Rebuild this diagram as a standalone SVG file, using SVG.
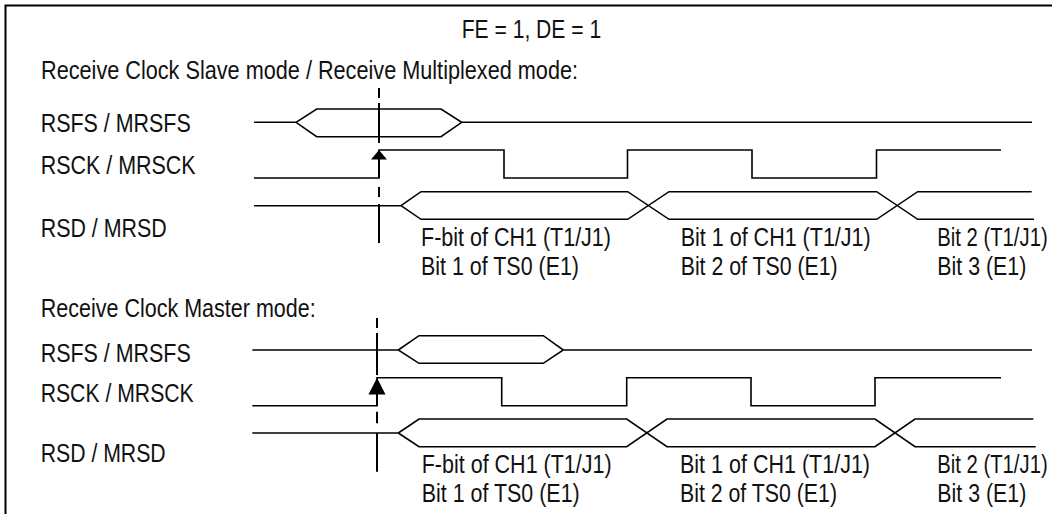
<svg xmlns="http://www.w3.org/2000/svg" width="1052" height="514" viewBox="0 0 1052 514">
<style>
text{font-family:"Liberation Sans Narrow","Liberation Sans",Arial,sans-serif;font-size:26px;fill:#111}
.sig{fill:none;stroke:#000;stroke-width:1.6}
.mk{fill:none;stroke:#000;stroke-width:2}
.ah{fill:#000}
.frame{fill:none;stroke:#000;stroke-width:2}
</style>
<rect width="1052" height="514" fill="#fff"/>
<path class="frame" d="M5.5,514 V5.5 H1052"/>
<g id="title">
<text x="461.7" y="38.3" textLength="139.5" lengthAdjust="spacingAndGlyphs">FE = 1, DE = 1</text>
</g>
<g id="slave-section">
<text x="41" y="78.7" textLength="537" lengthAdjust="spacingAndGlyphs">Receive Clock Slave mode / Receive Multiplexed mode:</text>
<g id="slave-rsfs">
<text x="40.7" y="132" textLength="150" lengthAdjust="spacingAndGlyphs">RSFS / MRSFS</text>
<path class="sig" d="M254,122.3 H296 M296,122.3 L316.7,109 H441 L461.7,122.3 L441,136.7 H316.7 Z M461.7,122.3 H1032"/>
</g>
<g id="slave-rsck">
<text x="40.7" y="174" textLength="155" lengthAdjust="spacingAndGlyphs">RSCK / MRSCK</text>
<path class="sig" d="M254,178 H379 V150 H504 V178 H627.5 V150 H752 V178 H876.5 V150 H1001"/>
</g>
<g id="slave-rsd">
<text x="40.7" y="236.5" textLength="126" lengthAdjust="spacingAndGlyphs">RSD / MRSD</text>
<path class="sig" d="M254,205.7 H401 M401,205.7 L421,191.7 H627.7 L669,219.3 H876.7 L917.7,191.7 H1031.7 M401,205.7 L421,219.3 H627.7 L669,191.7 H876.7 L917.7,219.3 H1034"/>
<text x="421" y="245.5" textLength="190" lengthAdjust="spacingAndGlyphs">F-bit of CH1 (T1/J1)</text>
<text x="421" y="275" textLength="158" lengthAdjust="spacingAndGlyphs">Bit 1 of TS0 (E1)</text>
<text x="680.7" y="245.5" textLength="190" lengthAdjust="spacingAndGlyphs">Bit 1 of CH1 (T1/J1)</text>
<text x="680.7" y="275" textLength="157" lengthAdjust="spacingAndGlyphs">Bit 2 of TS0 (E1)</text>
<text transform="translate(937.3,245.5) scale(0.78,1)">Bit 2 (T1/J1)</text>
<text x="937.3" y="275" textLength="89" lengthAdjust="spacingAndGlyphs">Bit 3 (E1)</text>
</g>
</g>
<g id="master-section">
<text x="40.7" y="317" textLength="275" lengthAdjust="spacingAndGlyphs">Receive Clock Master mode:</text>
<g id="master-rsfs">
<text x="40.7" y="361.5" textLength="150" lengthAdjust="spacingAndGlyphs">RSFS / MRSFS</text>
<path class="sig" d="M252.3,350 H398.3 M398.3,350 L419,335.7 H543.3 L563.3,350 L543.3,363.3 H419 Z M563.3,350 H1032"/>
</g>
<g id="master-rsck">
<text x="40.7" y="401.7" textLength="153" lengthAdjust="spacingAndGlyphs">RSCK / MRSCK</text>
<path class="sig" d="M252.3,405.7 H377 V377.7 H501.7 V405.7 H626.7 V377.7 H751 V405.7 H875 V377.7 H1001"/>
</g>
<g id="master-rsd">
<text x="40.7" y="461.7" textLength="125" lengthAdjust="spacingAndGlyphs">RSD / MRSD</text>
<path class="sig" d="M252.3,433 H398.3 M398.3,433 L419,419 H626.7 L667,446.7 H875 L915,419 H1033.3 M398.3,433 L419,446.7 H626.7 L667,419 H875 L915,446.7 H1035.7"/>
<text x="421.7" y="472.7" textLength="190" lengthAdjust="spacingAndGlyphs">F-bit of CH1 (T1/J1)</text>
<text x="421.7" y="501.7" textLength="158" lengthAdjust="spacingAndGlyphs">Bit 1 of TS0 (E1)</text>
<text x="680" y="472.7" textLength="190" lengthAdjust="spacingAndGlyphs">Bit 1 of CH1 (T1/J1)</text>
<text x="680" y="501.7" textLength="157" lengthAdjust="spacingAndGlyphs">Bit 2 of TS0 (E1)</text>
<text transform="translate(937.3,472.7) scale(0.78,1)">Bit 2 (T1/J1)</text>
<text x="937.3" y="501.7" textLength="89" lengthAdjust="spacingAndGlyphs">Bit 3 (E1)</text>
</g>
</g>
<g id="connectors">
<path class="mk" d="M379,88 V98 M379,103 V143 M379,159 V178 M379,187 V197 M379,204 V243"/>
<polygon class="ah" points="379,150 371,159.5 387,159.5"/>
<path class="mk" d="M377,318 V328 M377,333 V375 M377,394 V405.7 M377,411.7 V423.3 M377,433 V471.7"/>
<polygon class="ah" points="377,377.7 368.5,394.5 385.5,394.5"/>
</g>
</svg>
